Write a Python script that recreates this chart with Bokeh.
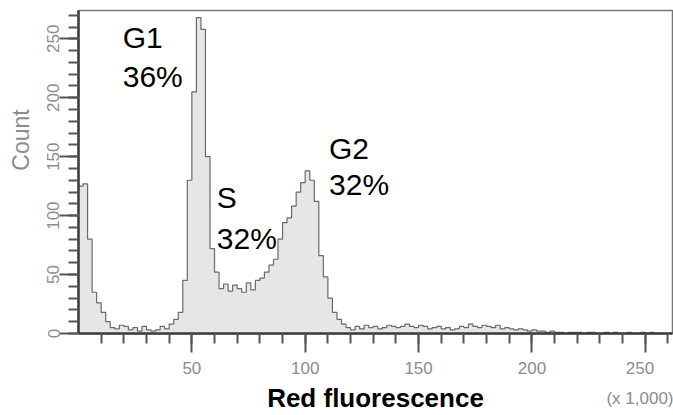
from bokeh.plotting import figure
from bokeh.models import Range1d, FixedTicker, Label
from bokeh.embed import file_html
from bokeh.resources import INLINE

# ---- data ----
bin_width = 2
counts = [
    125, 127, 80, 35, 26, 18, 10, 5, 4, 7,      # 0-20
    6, 3, 5, 2, 6, 3, 2, 3, 6, 4,               # 20-40
    8, 12, 18, 45, 130, 205, 268, 258, 150, 72, # 40-60
    52, 38, 42, 36, 41, 38, 35, 43, 37, 45,     # 60-80
    47, 52, 58, 63, 80, 94, 98, 108, 120, 128,  # 80-100
    138, 130, 112, 66, 48, 30, 18, 12, 8, 5,    # 100-120
    3, 6, 4, 7, 5, 6, 4, 5, 7, 6,               # 120-140
    5, 6, 8, 6, 5, 7, 6, 4, 5, 6,               # 140-160
    4, 5, 3, 4, 6, 5, 8, 6, 5, 7,               # 160-180
    6, 5, 7, 4, 5, 4, 3, 4, 3, 2,               # 180-200
    3, 2, 2, 1, 2, 1, 1, 0, 1, 1,               # 200-220
    1, 0, 1, 1, 0, 0, 1, 0, 1, 0,               # 220-240
    0, 1, 0, 0, 1, 0, 1, 0, 0, 0, 0,            # 240-262
]
x_major_ticks = [50, 100, 150, 200, 250]
y_major_ticks = [0, 50, 100, 150, 200, 250]
phase_labels = ["G1", "36%", "S", "32%", "G2", "32%"]
phase_label_x = [19.5, 19.5, 61, 61, 110.5, 110.5]
phase_label_y = [251, 218, 115, 81, 157, 126]
x_title = "Red fluorescence"
y_title = "Count"
x_unit_note = "(x 1,000)"

edges = [i * bin_width for i in range(len(counts) + 1)]
step_y = counts + [counts[-1]]

p = figure(width=673, height=415, output_backend="svg", toolbar_location=None,
           x_range=Range1d(0, 262), y_range=Range1d(0, 274),
           min_border_left=78, min_border_right=1, min_border_top=10, min_border_bottom=82)

p.varea_step(x=edges, y1=[0] * len(edges), y2=step_y, step_mode="after",
             fill_color="#e6e6e6")
p.step(edges, step_y, mode="after", line_color="#6a6a6a", line_width=1.2)

p.grid.visible = False
p.outline_line_color = "#777777"
p.outline_line_width = 1.5
p.background_fill_color = "white"
p.border_fill_color = "white"

# axes
for ax in (p.xaxis[0], p.yaxis[0]):
    ax.axis_line_color = "#3a3a3a"
    ax.axis_line_width = 2.5
    ax.major_tick_line_color = "#555555"
    ax.minor_tick_line_color = "#555555"
    ax.major_tick_line_width = 2
    ax.minor_tick_line_width = 2
    ax.major_tick_in = 0
    ax.minor_tick_in = 0
    ax.major_tick_out = 19
    ax.minor_tick_out = 10
    ax.major_label_text_color = "#8c8c8c"
    ax.major_label_text_font = "Liberation Sans"
    ax.major_label_text_font_size = "17px"

p.xaxis.ticker = FixedTicker(ticks=x_major_ticks, minor_ticks=list(range(10, 262, 10)))
p.yaxis.ticker = FixedTicker(ticks=y_major_ticks, minor_ticks=list(range(0, 274, 10)))
p.xaxis.major_label_overrides = {250: "250\n" + x_unit_note}
p.xaxis.major_label_text_line_height = 1.6
p.yaxis.major_label_orientation = "vertical"
p.xaxis.major_label_standoff = 6
p.yaxis.major_label_standoff = 0

p.xaxis.axis_label = x_title
p.xaxis.axis_label_text_font = "Liberation Sans"
p.xaxis.axis_label_text_font_style = "bold"
p.xaxis.axis_label_text_font_size = "26px"
p.xaxis.axis_label_text_color = "black"
p.xaxis.axis_label_standoff = -28

p.yaxis.axis_label = "\u00a0" * 10 + y_title
p.yaxis.axis_label_text_font = "Liberation Sans"
p.yaxis.axis_label_text_font_style = "normal"
p.yaxis.axis_label_text_font_size = "23px"
p.yaxis.axis_label_text_color = "#8c8c8c"
p.yaxis.axis_label_standoff = 11

for t, x, y in zip(phase_labels, phase_label_x, phase_label_y):
    p.add_layout(Label(x=x, y=y, text=t, text_font="Liberation Sans",
                       text_font_size="30px", text_color="black",
                       text_baseline="alphabetic", text_align="left"))

open("out.html", "w").write(file_html(p, INLINE))
